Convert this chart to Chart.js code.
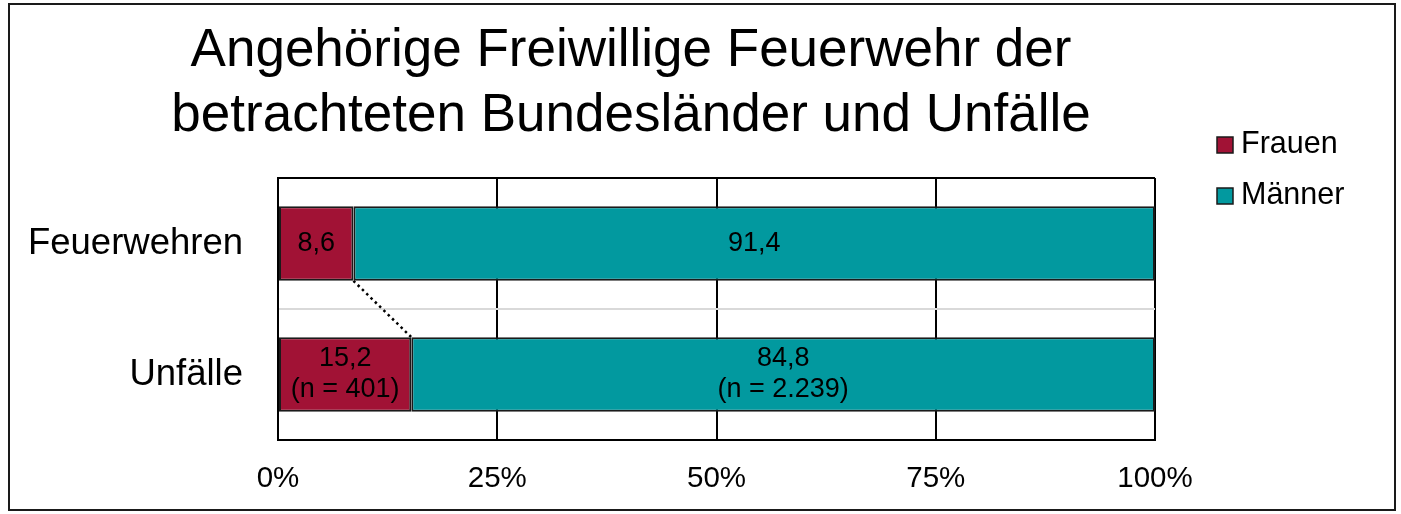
<!DOCTYPE html>
<html lang="de">
<head>
<meta charset="utf-8">
<title>Angehörige Freiwillige Feuerwehr der betrachteten Bundesländer und Unfälle</title>
<script src="https://cdn.jsdelivr.net/npm/chart.js@4"></script>
<style>
  html, body { margin: 0; padding: 0; background: #fff; }
  #wrap { width: 1401px; height: 514px; }
</style>
</head>
<body>
<div id="wrap"><canvas id="chart" width="1401" height="514"></canvas></div>
<script>
// Data (percent shares)
const categories = ['Feuerwehren', 'Unfälle'];
const seriesNames = ['Frauen', 'Männer'];
const frauen = [8.6, 15.2];
const maenner = [91.4, 84.8];
const frauenN = [null, '401'];
const maennerN = [null, '2.239'];
const xTicks = [0, 25, 50, 75, 100];
const titleLines = ['Angehörige Freiwillige Feuerwehr der', 'betrachteten Bundesländer und Unfälle'];

const COLORS = {
  frauen: '#A11235',
  maenner: '#02999F',
  edge: '#1a1a1a',
  grid: '#000000',
  sep: '#D9D9D9'
};

const FONT = "'Liberation Sans', Arial, sans-serif";
const fmt = (v) => v.toLocaleString('de-DE', { minimumFractionDigits: 1, maximumFractionDigits: 1 });

// outer frame, title and legend
const decorPlugin = {
  id: 'decor',
  beforeDraw(chart) {
    const c = chart.ctx;
    c.save();
    c.fillStyle = '#fff';
    c.fillRect(0, 0, chart.width, chart.height);
    c.restore();
  },
  afterDraw(chart) {
    const c = chart.ctx;
    c.save();
    c.strokeStyle = '#1a1a1a';
    c.lineWidth = 2;
    c.strokeRect(9, 4, 1386, 506);

    c.fillStyle = '#000';
    c.font = '53px ' + FONT;
    c.textAlign = 'center';
    c.textBaseline = 'alphabetic';
    c.fillText(titleLines[0], 631, 66);
    c.fillText(titleLines[1], 631, 131);

    c.font = '30.5px ' + FONT;
    c.textAlign = 'left';
    c.textBaseline = 'middle';
    chart.data.datasets.forEach((ds, i) => {
      const y = 145 + i * 51;
      c.fillStyle = ds.backgroundColor;
      c.fillRect(1217, y - 8, 16, 16);
      c.strokeStyle = COLORS.edge;
      c.lineWidth = 1.5;
      c.strokeRect(1217, y - 8, 16, 16);
      c.fillStyle = '#000';
      c.fillText(ds.label, 1241, y);
    });
    c.restore();
  }
};

// dotted series line between the Frauen bar ends + value labels
const barExtras = {
  id: 'barExtras',
  afterDatasetsDraw(chart) {
    const c = chart.ctx;
    const f = chart.getDatasetMeta(0).data;
    c.save();
    c.strokeStyle = '#000';
    c.lineWidth = 2.5;
    c.setLineDash([2.5, 3.5]);
    c.beginPath();
    c.moveTo(f[0].x, f[0].y + f[0].height / 2);
    c.lineTo(f[1].x, f[1].y - f[1].height / 2);
    c.stroke();
    c.setLineDash([]);

    c.fillStyle = '#000';
    c.font = '27px ' + FONT;
    c.textAlign = 'center';
    c.textBaseline = 'middle';
    const extra = [frauenN, maennerN];
    chart.data.datasets.forEach((ds, di) => {
      chart.getDatasetMeta(di).data.forEach((bar, i) => {
        const cx = (bar.x + bar.base) / 2;
        const lines = [fmt(ds.data[i])];
        if (extra[di][i]) lines.push('(n = ' + extra[di][i] + ')');
        const step = 31;
        const y0 = bar.y - (lines.length - 1) * step / 2;
        lines.forEach((t, k) => c.fillText(t, cx, y0 + k * step));
      });
    });
    c.restore();
  }
};

new Chart(document.getElementById('chart'), {
  type: 'bar',
  data: {
    labels: categories,
    datasets: [
      {
        label: seriesNames[0],
        data: frauen,
        backgroundColor: COLORS.frauen,
        borderColor: COLORS.edge,
        borderWidth: 2,
        borderSkipped: false
      },
      {
        label: seriesNames[1],
        data: maenner,
        backgroundColor: COLORS.maenner,
        borderColor: COLORS.edge,
        borderWidth: 2,
        borderSkipped: false
      }
    ]
  },
  options: {
    indexAxis: 'y',
    responsive: false,
    animation: false,
    categoryPercentage: 1,
    barPercentage: 0.57,
    layout: { padding: { top: 178, right: 246, left: 0, bottom: 0 } },
    scales: {
      x: {
        stacked: true,
        min: 0,
        max: 100,
        afterBuildTicks: (s) => { s.ticks = xTicks.map(v => ({ value: v })); },
        afterFit: (s) => { s.height = 74; },
        grid: { color: COLORS.grid, lineWidth: 2, drawTicks: false },
        border: { color: COLORS.grid, width: 2 },
        ticks: {
          color: '#000',
          font: { family: FONT, size: 29.5 },
          padding: 21,
          maxRotation: 0,
          callback: (v) => v + '%'
        }
      },
      y: {
        stacked: true,
        afterFit: (s) => { s.width = 278; },
        grid: {
          offset: true,
          drawTicks: false,
          lineWidth: 2,
          color: (ctx) => (ctx.index === 1 ? COLORS.sep : COLORS.grid)
        },
        border: { color: COLORS.grid, width: 2 },
        ticks: {
          color: '#000',
          font: { family: FONT, size: 36.5 },
          padding: 35
        }
      }
    },
    plugins: {
      legend: { display: false },
      title: { display: false },
      tooltip: { enabled: false }
    }
  },
  plugins: [decorPlugin, barExtras]
});
</script>
</body>
</html>
